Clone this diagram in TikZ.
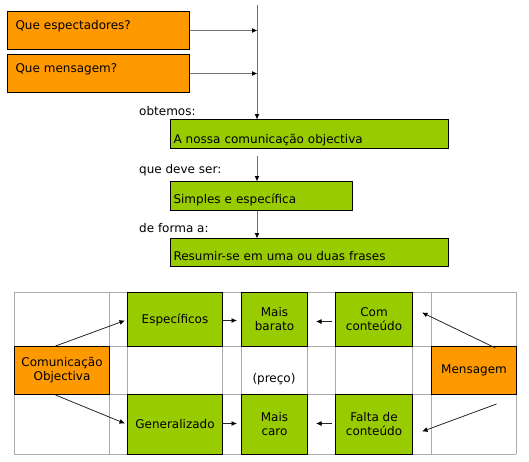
\documentclass[tikz,border=0pt]{standalone}
\usepackage{fontspec}
\setmainfont{DejaVu Sans}
\usetikzlibrary{arrows.meta,calc}
\definecolor{orng}{HTML}{FF9900}
\definecolor{grn}{HTML}{99CC00}
\definecolor{gridc}{HTML}{ABABAB}
\definecolor{lineg}{HTML}{707070}
\begin{document}
\begin{tikzpicture}[x=1pt,y=-1pt,
  font=\fontsize{12}{14}\selectfont,
  base/.style={draw=black, line width=1pt, inner sep=0pt, anchor=north west},
  obox/.style={base, fill=orng},
  gbox/.style={base, fill=grn},
  lbox/.style={align=left},
  tbox/.style={align=center},
  lbl/.style={inner sep=0pt, anchor=base west},
  toparr/.style={draw=lineg, line width=1.3pt, -{Latex[length=5.5pt,width=5pt,color=black]}, shorten >=-0.5pt},
  tarr/.style={draw=black!85, line width=0.8pt, -{Latex[length=5.5pt,width=5pt,color=black]}},
  gridl/.style={draw=gridc, line width=0.9pt}
]
\useasboundingbox (0,0) rectangle (529,461);

% ---------- top part ----------
\coordinate (top) at (257,5);
\node[obox, lbox, inner xsep=8pt, text width=166pt, text height=17.5pt, text depth=20.5pt] (qe) at (7,11) {Que espectadores?};
\node[obox, lbox, inner xsep=8pt, text width=166pt, text height=17.5pt, text depth=20.5pt] (qm) at (7,54) {Que mensagem?};

\node[gbox, lbox, inner xsep=3pt, text width=272pt, text height=23.5pt, text depth=5.5pt] (nossa) at (170,119) {A nossa comunicação objectiva};
\node[gbox, lbox, inner xsep=3pt, text width=176pt, text height=22pt, text depth=7pt] (simp) at (170,181) {Simples e específica};
\node[gbox, lbox, inner xsep=3pt, text width=272pt, text height=22pt, text depth=6pt] (resu) at (170,238) {Resumir-se em uma ou duas frases};

\node[lbl] (l1) at (139,115) {obtemos:};
\node[lbl] (l2) at (139,173) {que deve ser:};
\node[lbl] (l3) at (139,232) {de forma a:};

\draw[toparr, line width=1pt] (top) -- (top |- nossa.north);
\draw[toparr] (qe.east) -- (qe.east -| top);
\draw[toparr] (qm.east) -- (qm.east -| top);
\draw[toparr, line width=1pt] ([yshift=-7pt]nossa.south -| top) -- (top |- simp.north);
\draw[toparr, line width=1pt] (simp.south -| top) -- (top |- resu.north);

% ---------- table ----------
\foreach \x in {14,109,127,222,241,307,335,412,431,516}
  \draw[gridl] (\x,292) -- (\x,454);
\foreach \y in {292,346,394,454}
  \draw[gridl] (14,\y) -- (516,\y);

\node[obox, tbox, minimum width=95pt, minimum height=48pt] (co) at (14,346) {Comunicação\\Objectiva};
\node[obox, tbox, minimum width=85pt, minimum height=48pt] (me) at (431,346) {Mensagem};

\node[gbox, tbox, minimum width=95pt, minimum height=54pt] (spec) at (127,292) {Específicos};
\node[gbox, tbox, minimum width=66pt, minimum height=54pt] (barato) at (241,292) {Mais\\barato};
\node[gbox, tbox, minimum width=77pt, minimum height=54pt] (com) at (335,292) {Com\\conteúdo};
\node[gbox, tbox, minimum width=95pt, minimum height=60pt] (gen) at (127,394) {Generalizado};
\node[gbox, tbox, minimum width=66pt, minimum height=60pt] (caro) at (241,394) {Mais\\caro};
\node[gbox, tbox, minimum width=77pt, minimum height=60pt] (falta) at (335,394) {Falta de\\conteúdo};

\node[inner sep=0pt, anchor=base] (preco) at (274,382) {(preço)};

\draw[tarr] ([xshift=-6.5pt]co.north) -- ([xshift=-2pt,yshift=-1pt]spec.west);
\draw[tarr] ([xshift=-6.5pt]co.south) -- ([xshift=-2pt,yshift=1pt]gen.west);
\draw[tarr] ([yshift=-1pt]spec.east) -- ([xshift=-4pt,yshift=-1pt]barato.west);
\draw[tarr] ([yshift=1pt]gen.east) -- ([xshift=-4pt,yshift=1pt]caro.west |- gen.west);
\draw[tarr] ([xshift=-3pt,yshift=-2pt]com.west) -- ([xshift=8pt,yshift=-2pt]barato.east);
\draw[tarr] ([xshift=-3pt,yshift=1pt]falta.west) -- ([xshift=8pt,yshift=1pt]caro.east);
\draw[tarr] ([xshift=21.5pt,yshift=-2pt]me.north) -- ([xshift=9pt,yshift=7pt]com.east);
\draw[tarr] ([xshift=22.5pt,yshift=-9pt]me.south) -- ([xshift=9pt,yshift=-7pt]falta.east);
\end{tikzpicture}
\end{document}
